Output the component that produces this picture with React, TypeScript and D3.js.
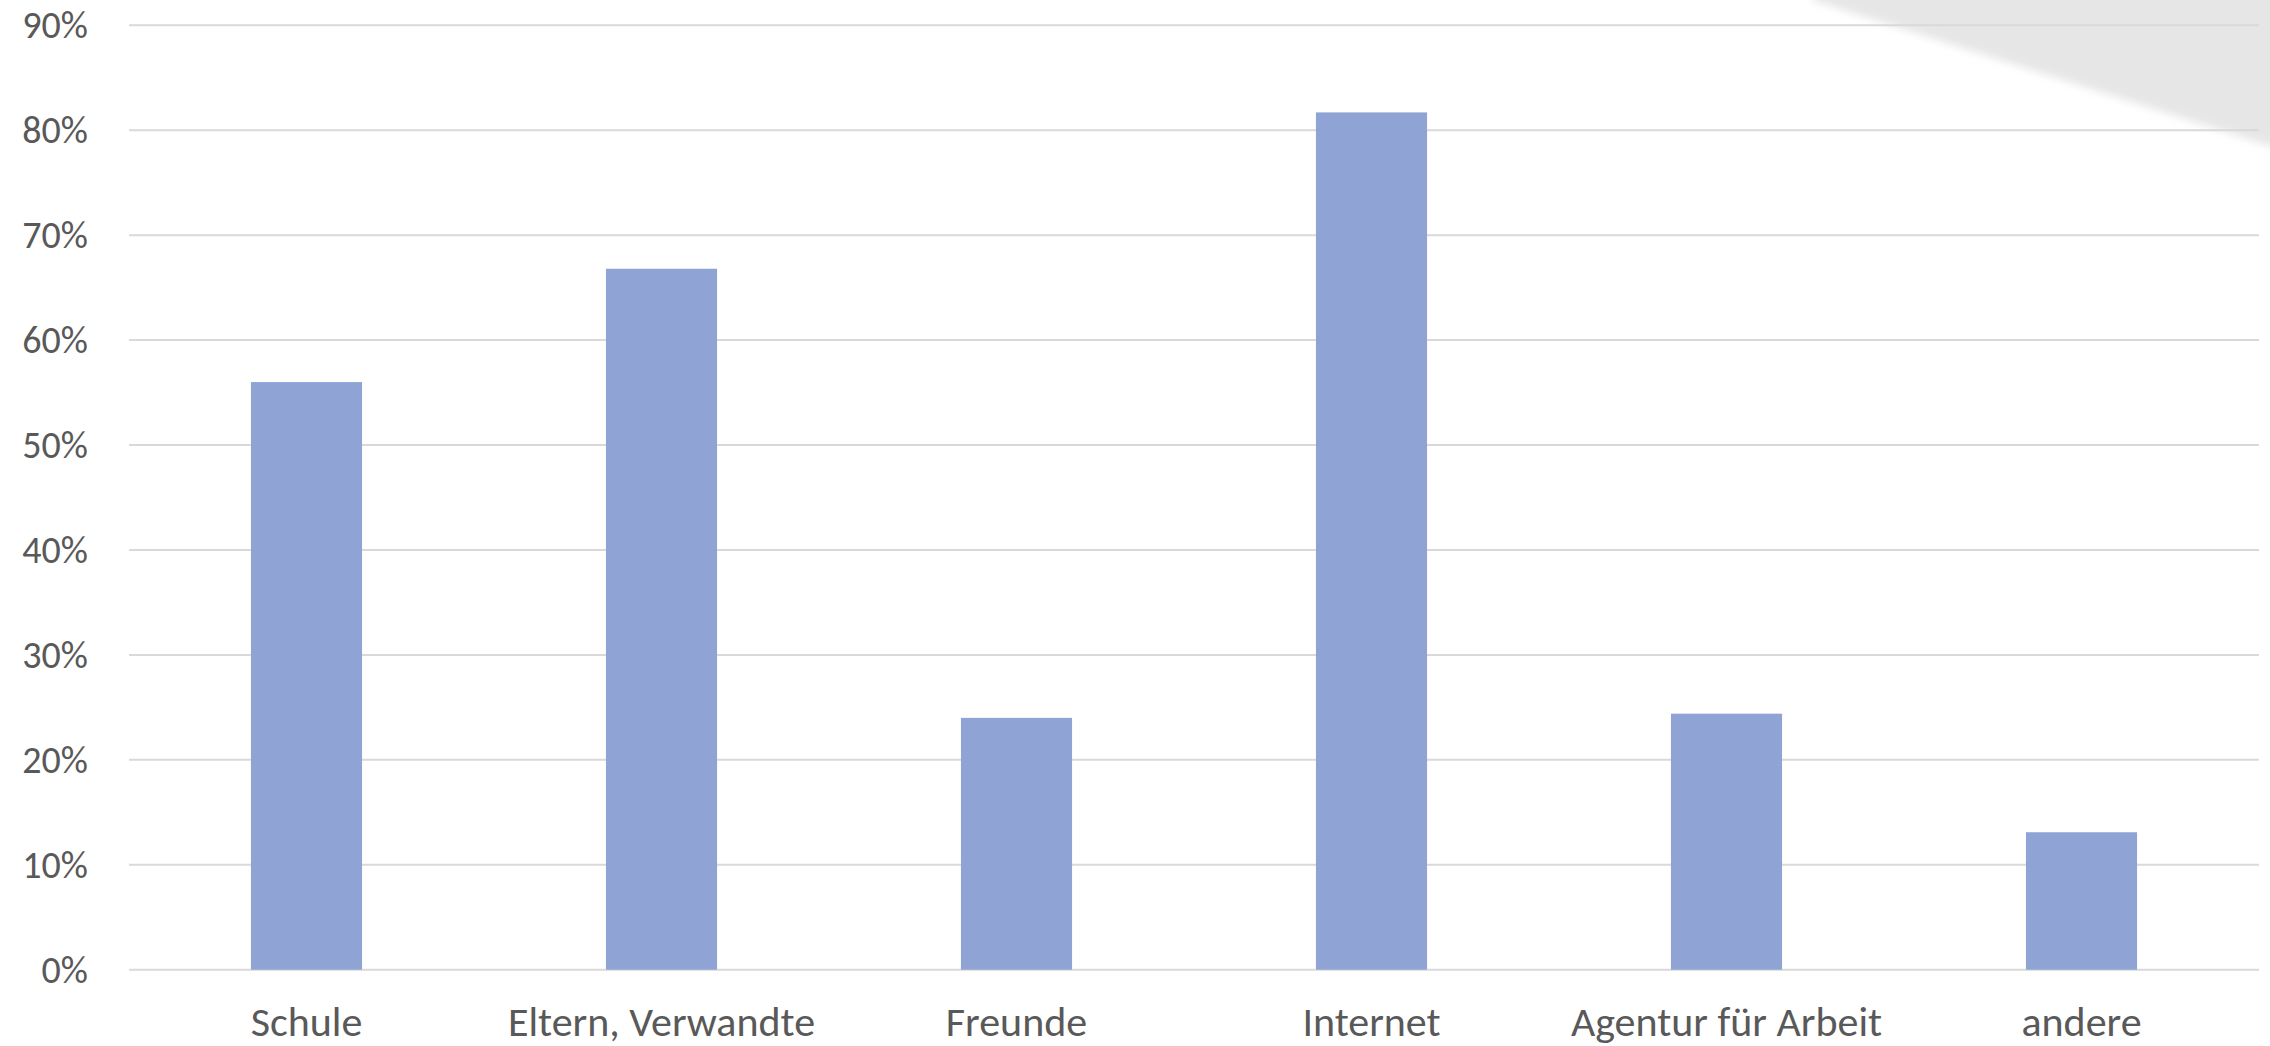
import React from "react";
import * as d3 from "d3";

const categories = ["Schule", "Eltern, Verwandte", "Freunde", "Internet", "Agentur für Arbeit", "andere"];
const values = [0.560, 0.668, 0.240, 0.817, 0.244, 0.131];
const yTicks = [0, 0.1, 0.2, 0.3, 0.4, 0.5, 0.6, 0.7, 0.8, 0.9];

const W = 2270;
const H = 1046;
const FONT = "Carlito, Calibri, Lato, 'Open Sans', sans-serif";

export default function App() {
  const x = d3.scaleBand<string>().domain(categories).range([129, 2259]).paddingInner(0).paddingOuter(0);
  const y = d3.scaleLinear().domain([0, 0.9]).range([969.7, 25.3]);
  const bw = x.bandwidth() * 0.313;
  const fmt = d3.format(".0%");
  return (
    <svg width={W} height={H} style={{ position: "absolute", left: 0, top: 0, background: "#fff" }}>
      <defs>
        <filter id="blur" x="-10%" y="-10%" width="120%" height="120%">
          <feGaussianBlur stdDeviation="4" />
        </filter>
      </defs>
      <polygon points="1812,-20 2300,-20 2300,154 2270,146 1812,0" fill="#e6e6e6" filter="url(#blur)" />
      {yTicks.map((t) => (
        <g key={t}>
          <line x1={129} x2={2259} y1={y(t)} y2={y(t)} stroke="#d9d9d9" strokeWidth={2} />
          <text x={88} y={y(t)} dy="0.34em" textAnchor="end" fontFamily={FONT} fontSize={38} fill="#595959">
            {fmt(t)}
          </text>
        </g>
      ))}
      {categories.map((c, i) => (
        <g key={c}>
          <rect
            x={(x(c) as number) + (x.bandwidth() - bw) / 2}
            y={y(values[i])}
            width={bw}
            height={y(0) - y(values[i])}
            fill="#8fa4d4"
          />
          <text
            x={(x(c) as number) + x.bandwidth() / 2}
            y={1036}
            textAnchor="middle"
            fontFamily={FONT}
            fontSize={42}
            fill="#595959"
          >
            {c}
          </text>
        </g>
      ))}
    </svg>
  );
}
